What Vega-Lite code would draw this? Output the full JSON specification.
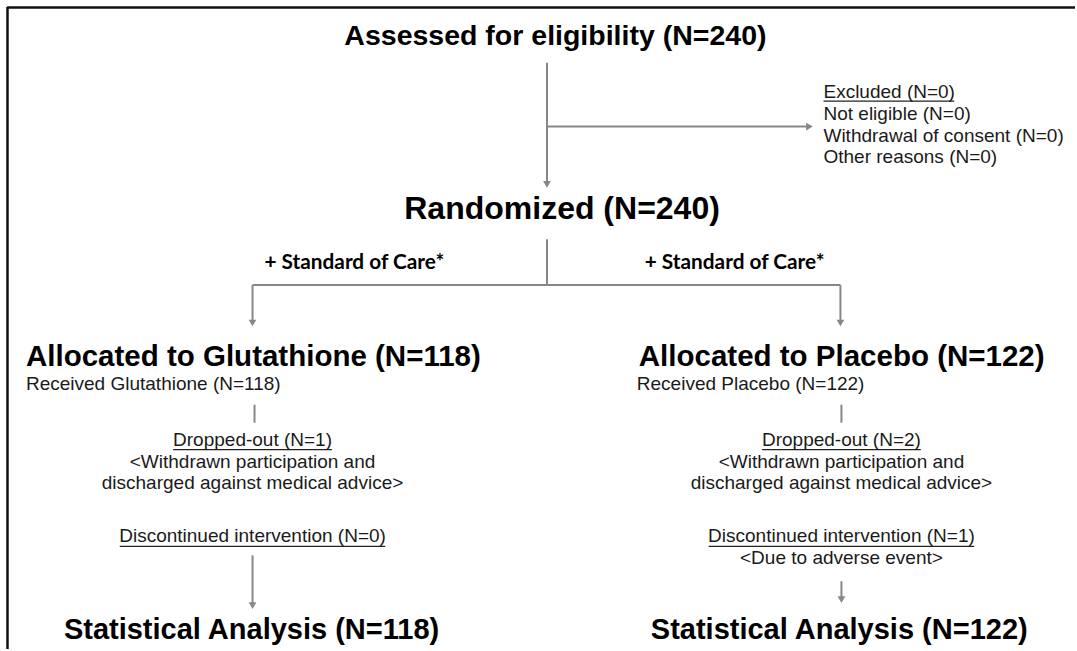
{
  "$schema": "https://vega.github.io/schema/vega-lite/v6.json",
  "width": 1077,
  "height": 651,
  "padding": 0,
  "autosize": {"type": "fit", "contains": "padding"},
  "background": "white",
  "config": {"view": {"stroke": null}},
  "datasets": {
    "frame": [
      {"x": 7, "y": 7.5, "x2": 1077, "y2": 7.5},
      {"x": 7.5, "y": 7, "x2": 7.5, "y2": 651}
    ],
    "connectors": [
      {"x": 548, "y": 63, "x2": 548, "y2": 182},
      {"x": 548, "y": 127, "x2": 808, "y2": 127},
      {"x": 548, "y": 240, "x2": 548, "y2": 286},
      {"x": 253, "y": 286, "x2": 842, "y2": 286},
      {"x": 253, "y": 286, "x2": 253, "y2": 321},
      {"x": 842, "y": 286, "x2": 842, "y2": 321},
      {"x": 255, "y": 406, "x2": 255, "y2": 424},
      {"x": 843, "y": 406, "x2": 843, "y2": 424},
      {"x": 253, "y": 557, "x2": 253, "y2": 605},
      {"x": 843, "y": 583, "x2": 843, "y2": 599}
    ],
    "arrowsDown": [
      {"x": 548, "y": 185},
      {"x": 253, "y": 324},
      {"x": 842, "y": 324},
      {"x": 253, "y": 607.5},
      {"x": 843, "y": 601.5}
    ],
    "arrowsRight": [
      {"x": 811, "y": 127}
    ],
    "underlines": [
      {"x": 825, "y": 101.5, "x2": 956, "y2": 101.5},
      {"x": 173.5, "y": 451, "x2": 332.5, "y2": 451},
      {"x": 763.5, "y": 451, "x2": 922.5, "y2": 451},
      {"x": 120, "y": 548, "x2": 386, "y2": 548},
      {"x": 710, "y": 548, "x2": 976, "y2": 548}
    ],
    "heads": [
      {"text": "Assessed for eligibility (N=240)", "x": 345, "y": 45, "role": "assessed"},
      {"text": "Randomized (N=240)", "x": 405, "y": 220, "role": "randomized"},
      {"text": "Allocated to Glutathione (N=118)", "x": 26, "y": 367, "role": "allocated"},
      {"text": "Allocated to Placebo (N=122)", "x": 640, "y": 367, "role": "allocated"},
      {"text": "Statistical Analysis (N=118)", "x": 64, "y": 641, "role": "analysis"},
      {"text": "Statistical Analysis (N=122)", "x": 652, "y": 641, "role": "analysis"}
    ],
    "care": [
      {"text": "+ Standard of Care*", "x": 355, "y": 270},
      {"text": "+ Standard of Care*", "x": 736, "y": 270}
    ],
    "notesLeft": [
      {"text": "Excluded (N=0)", "x": 825, "y": 98},
      {"text": "Not eligible (N=0)", "x": 825, "y": 120},
      {"text": "Withdrawal of consent (N=0)", "x": 825, "y": 142},
      {"text": "Other reasons (N=0)", "x": 825, "y": 164},
      {"text": "Received Glutathione (N=118)", "x": 26, "y": 391},
      {"text": "Received Placebo (N=122)", "x": 638, "y": 391}
    ],
    "notesCenter": [
      {"text": "Dropped-out (N=1)", "x": 253, "y": 447},
      {"text": "<Withdrawn participation and", "x": 253, "y": 469},
      {"text": "discharged against medical advice>", "x": 253, "y": 491},
      {"text": "Discontinued intervention (N=0)", "x": 253, "y": 544},
      {"text": "Dropped-out (N=2)", "x": 843, "y": 447},
      {"text": "<Withdrawn participation and", "x": 843, "y": 469},
      {"text": "discharged against medical advice>", "x": 843, "y": 491},
      {"text": "Discontinued intervention (N=1)", "x": 843, "y": 544},
      {"text": "<Due to adverse event>", "x": 843, "y": 566}
    ]
  },
  "layer": [
    {
      "data": {"name": "frame"},
      "mark": {"type": "rule", "color": "#111111", "strokeWidth": 2.5},
      "encoding": {
        "x": {"field": "x", "type": "quantitative", "scale": {"domain": [0, 1077], "nice": false, "zero": false}, "axis": null},
        "y": {"field": "y", "type": "quantitative", "scale": {"domain": [0, 651], "nice": false, "zero": false, "reverse": true}, "axis": null},
        "x2": {"field": "x2"},
        "y2": {"field": "y2"}
      }
    },
    {
      "data": {"name": "connectors"},
      "mark": {"type": "rule", "color": "#878787", "strokeWidth": 2},
      "encoding": {
        "x": {"field": "x", "type": "quantitative", "scale": {"domain": [0, 1077], "nice": false, "zero": false}, "axis": null},
        "y": {"field": "y", "type": "quantitative", "scale": {"domain": [0, 651], "nice": false, "zero": false, "reverse": true}, "axis": null},
        "x2": {"field": "x2"},
        "y2": {"field": "y2"}
      }
    },
    {
      "data": {"name": "arrowsDown"},
      "mark": {"type": "point", "shape": "triangle-down", "filled": true, "color": "#878787", "size": 60, "opacity": 1},
      "encoding": {
        "x": {"field": "x", "type": "quantitative", "scale": {"domain": [0, 1077], "nice": false, "zero": false}, "axis": null},
        "y": {"field": "y", "type": "quantitative", "scale": {"domain": [0, 651], "nice": false, "zero": false, "reverse": true}, "axis": null}
      }
    },
    {
      "data": {"name": "arrowsRight"},
      "mark": {"type": "point", "shape": "triangle-right", "filled": true, "color": "#878787", "size": 60, "opacity": 1},
      "encoding": {
        "x": {"field": "x", "type": "quantitative", "scale": {"domain": [0, 1077], "nice": false, "zero": false}, "axis": null},
        "y": {"field": "y", "type": "quantitative", "scale": {"domain": [0, 651], "nice": false, "zero": false, "reverse": true}, "axis": null}
      }
    },
    {
      "data": {"name": "underlines"},
      "mark": {"type": "rule", "color": "#222222", "strokeWidth": 1.2},
      "encoding": {
        "x": {"field": "x", "type": "quantitative", "scale": {"domain": [0, 1077], "nice": false, "zero": false}, "axis": null},
        "y": {"field": "y", "type": "quantitative", "scale": {"domain": [0, 651], "nice": false, "zero": false, "reverse": true}, "axis": null},
        "x2": {"field": "x2"},
        "y2": {"field": "y2"}
      }
    },
    {
      "data": {"name": "heads"},
      "mark": {"type": "text", "font": "Liberation Sans", "fontWeight": "bold", "align": "left", "baseline": "alphabetic", "color": "#000000"},
      "encoding": {
        "x": {"field": "x", "type": "quantitative", "scale": {"domain": [0, 1077], "nice": false, "zero": false}, "axis": null},
        "y": {"field": "y", "type": "quantitative", "scale": {"domain": [0, 651], "nice": false, "zero": false, "reverse": true}, "axis": null},
        "text": {"field": "text"},
        "size": {"field": "role", "type": "nominal", "scale": {"type": "ordinal", "domain": ["assessed", "randomized", "allocated", "analysis"], "range": [28.5, 32, 29.5, 29]}, "legend": null}
      }
    },
    {
      "data": {"name": "care"},
      "mark": {"type": "text", "font": "Lato", "fontWeight": "bold", "fontSize": 20.8, "align": "center", "baseline": "alphabetic", "color": "#000000"},
      "encoding": {
        "x": {"field": "x", "type": "quantitative", "scale": {"domain": [0, 1077], "nice": false, "zero": false}, "axis": null},
        "y": {"field": "y", "type": "quantitative", "scale": {"domain": [0, 651], "nice": false, "zero": false, "reverse": true}, "axis": null},
        "text": {"field": "text"}
      }
    },
    {
      "data": {"name": "notesLeft"},
      "mark": {"type": "text", "font": "Liberation Sans", "fontSize": 19, "align": "left", "baseline": "alphabetic", "color": "#1a1a1a"},
      "encoding": {
        "x": {"field": "x", "type": "quantitative", "scale": {"domain": [0, 1077], "nice": false, "zero": false}, "axis": null},
        "y": {"field": "y", "type": "quantitative", "scale": {"domain": [0, 651], "nice": false, "zero": false, "reverse": true}, "axis": null},
        "text": {"field": "text"}
      }
    },
    {
      "data": {"name": "notesCenter"},
      "mark": {"type": "text", "font": "Liberation Sans", "fontSize": 19, "align": "center", "baseline": "alphabetic", "color": "#1a1a1a"},
      "encoding": {
        "x": {"field": "x", "type": "quantitative", "scale": {"domain": [0, 1077], "nice": false, "zero": false}, "axis": null},
        "y": {"field": "y", "type": "quantitative", "scale": {"domain": [0, 651], "nice": false, "zero": false, "reverse": true}, "axis": null},
        "text": {"field": "text"}
      }
    }
  ]
}
